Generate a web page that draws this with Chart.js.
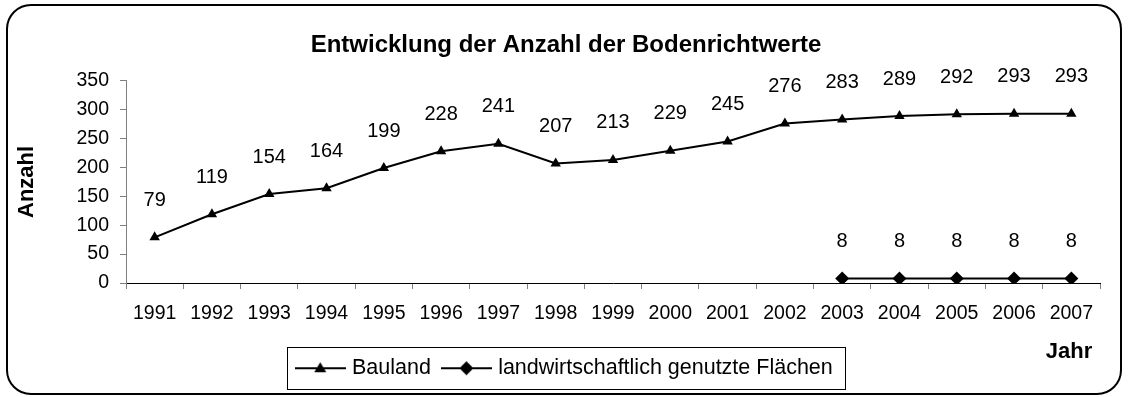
<!DOCTYPE html>
<html lang="de">
<head>
<meta charset="utf-8">
<title>Entwicklung der Anzahl der Bodenrichtwerte</title>
<script src="https://cdn.jsdelivr.net/npm/chart.js@4.4.1/dist/chart.umd.min.js"></script>
<style>
  html, body { margin: 0; padding: 0; background: #fff; }
  canvas { display: block; }
</style>
</head>
<body>
<canvas id="bodenChart" width="1128" height="397"></canvas>
<script>
// Jahre und Anzahl der Bodenrichtwerte je Nutzungsart
const jahre = ['1991', '1992', '1993', '1994', '1995', '1996', '1997', '1998', '1999',
               '2000', '2001', '2002', '2003', '2004', '2005', '2006', '2007'];
const bauland = [79, 119, 154, 164, 199, 228, 241, 207, 213, 229, 245, 276, 283, 289, 292, 293, 293];
const landwirtschaft = [null, null, null, null, null, null, null, null, null, null, null, null, 8, 8, 8, 8, 8];
const serienNamen = ['Bauland', 'landwirtschaftlich genutzte Flächen'];
const yMin = 0;
const yMax = 350;
const ySchritt = 50;

const schrift = "'Liberation Sans', Arial, sans-serif";
const normal = { family: schrift, size: 19.5 };
const wertSchrift = { family: schrift, size: 20 };
const legendeSchrift = { family: schrift, size: 21.5 };
const fett = { family: schrift, size: 22, weight: 'bold' };
const titelSchrift = { family: schrift, size: 24, weight: 'bold' };

// kleines Symbol fuer die Legende: Linie mit Marker in der Mitte
function legendenSymbol(form) {
  const c = document.createElement('canvas');
  c.width = 51; c.height = 16;
  const g = c.getContext('2d');
  g.strokeStyle = '#000';
  g.lineWidth = 2;
  g.beginPath(); g.moveTo(0, 8); g.lineTo(51, 8); g.stroke();
  g.fillStyle = '#000';
  g.beginPath();
  if (form === 'triangle') {
    g.moveTo(25.5, 2); g.lineTo(31.5, 12); g.lineTo(19.5, 12);
  } else {
    g.moveTo(25.5, 1); g.lineTo(32.5, 8); g.lineTo(25.5, 15); g.lineTo(18.5, 8);
  }
  g.closePath(); g.fill();
  return c;
}
const symbole = [legendenSymbol('triangle'), legendenSymbol('diamond')];

// Werte ueber die Punkte schreiben, Achsentitel "Jahr", Rahmen um Legende und Grafik
const beschriftung = {
  id: 'beschriftung',
  beforeDraw(chart) {
    const ctx = chart.ctx;
    ctx.save();
    ctx.fillStyle = '#fff';
    ctx.fillRect(0, 0, chart.width, chart.height);
    ctx.restore();
  },
  afterDatasetsDraw(chart) {
    const ctx = chart.ctx;
    ctx.save();
    ctx.font = `${wertSchrift.size}px ${schrift}`;
    ctx.fillStyle = '#000';
    ctx.textAlign = 'center';
    ctx.textBaseline = 'middle';
    chart.data.datasets.forEach((ds, i) => {
      chart.getDatasetMeta(i).data.forEach((pt, j) => {
        const v = ds.data[j];
        if (v === null || v === undefined) return;
        ctx.fillText(String(v), pt.x, pt.y - 37);
      });
    });
    ctx.restore();
  },
  afterDraw(chart) {
    const ctx = chart.ctx;
    ctx.save();
    ctx.fillStyle = '#000';
    ctx.font = `bold ${fett.size}px ${schrift}`;
    ctx.textAlign = 'center';
    ctx.textBaseline = 'middle';
    ctx.fillText('Jahr', 1069, 352);

    const boxen = chart.legend.legendHitBoxes;
    if (boxen.length) {
      const erste = boxen[0];
      const letzte = boxen[boxen.length - 1];
      const mitte = erste.top + erste.height / 2;
      const links = erste.left - 12.5;
      const rechts = letzte.left + letzte.width + 12;
      ctx.strokeStyle = '#000';
      ctx.lineWidth = 1;
      ctx.strokeRect(Math.round(links) + 0.5, Math.round(mitte - 21) + 0.5,
                     Math.round(rechts - links), 42);
    }

    ctx.lineWidth = 2;
    ctx.strokeStyle = '#000';
    ctx.beginPath();
    ctx.roundRect(7, 5, 1114, 389, 24);
    ctx.stroke();
    ctx.restore();
  }
};

new Chart(document.getElementById('bodenChart'), {
  type: 'line',
  data: {
    labels: jahre,
    datasets: [{
      label: serienNamen[0],
      data: bauland,
      borderColor: '#000',
      backgroundColor: '#000',
      borderWidth: 2,
      pointStyle: 'triangle',
      pointRadius: 6,
      pointBorderWidth: 0,
      tension: 0
    }, {
      label: serienNamen[1],
      data: landwirtschaft,
      borderColor: '#000',
      backgroundColor: '#000',
      borderWidth: 2,
      pointStyle: 'rectRot',
      pointRadius: 7,
      pointBorderWidth: 0,
      tension: 0
    }]
  },
  options: {
    responsive: false,
    animation: false,
    layout: { padding: { top: 12, left: 32, right: 28, bottom: 8 } },
    scales: {
      x: {
        offset: true,
        grid: { offset: true, drawOnChartArea: false, drawTicks: true, tickLength: 6, color: '#808080' },
        border: { color: '#000', width: 1 },
        ticks: { color: '#000', font: normal, padding: 13, maxRotation: 0, autoSkip: false },
        afterFit(scale) { scale.height = 60; }
      },
      y: {
        min: yMin,
        max: yMax,
        grid: { drawOnChartArea: false, drawTicks: true, tickLength: 6, color: '#808080' },
        border: { color: '#808080', width: 1 },
        ticks: { stepSize: ySchritt, color: '#000', font: normal, padding: 11 },
        title: { display: true, text: 'Anzahl', color: '#000', font: fett, padding: { top: -18, bottom: 0 } },
        afterFit(scale) { scale.width = 94; }
      }
    },
    plugins: {
      title: {
        display: true,
        text: 'Entwicklung der Anzahl der Bodenrichtwerte',
        color: '#000',
        font: titelSchrift,
        padding: { top: 19, bottom: 21 }
      },
      legend: {
        position: 'bottom',
        labels: {
          usePointStyle: true,
          pointStyleWidth: 42,
          color: '#000',
          font: legendeSchrift,
          padding: 14.5,
          generateLabels(chart) {
            return chart.data.datasets.map((ds, i) => ({
              text: ds.label,
              pointStyle: symbole[i],
              datasetIndex: i,
              fillStyle: '#000',
              strokeStyle: '#000',
              lineWidth: 0,
              hidden: false
            }));
          }
        }
      },
      tooltip: { enabled: false }
    }
  },
  plugins: [beschriftung]
});
</script>
</body>
</html>
